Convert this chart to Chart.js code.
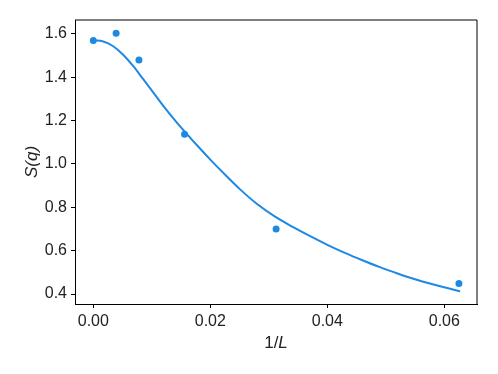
<!DOCTYPE html>
<html>
<head>
<meta charset="utf-8">
<script src="https://cdn.jsdelivr.net/npm/chart.js@4/dist/chart.umd.min.js"></script>
<style>
  html, body { margin: 0; padding: 0; background: #fff; }
  #wrap { width: 498px; height: 374px; }
</style>
</head>
<body>
<div id="wrap"><canvas id="grafico" width="498" height="374"></canvas></div>
<script>
// Datos medidos: S(q) frente a 1/L
const invL   = [0, 0.0039, 0.0078, 0.0156, 0.03125, 0.0625];
const sq     = [1.570, 1.603, 1.479, 1.137, 0.700, 0.448];

// Curva de ajuste
const ajusteX = [0, 0.0017, 0.0034, 0.0051, 0.0068, 0.0085, 0.0103, 0.0120, 0.0140, 0.0157, 0.0180, 0.0200,
                 0.0225, 0.0250, 0.0280, 0.0310, 0.0340, 0.0370, 0.0400, 0.0430, 0.0460, 0.0490, 0.0520,
                 0.0550, 0.0580, 0.0610, 0.0627];
const ajusteY = [1.570, 1.565, 1.543, 1.504, 1.452, 1.392, 1.328, 1.267, 1.200, 1.147, 1.078, 1.020,
                 0.951, 0.885, 0.815, 0.758, 0.711, 0.668, 0.627, 0.590, 0.556, 0.524, 0.495,
                 0.468, 0.445, 0.424, 0.413];

// Marcas de los ejes
const ticksX = [0, 0.02, 0.04, 0.06];
const ticksY = [0.4, 0.6, 0.8, 1.0, 1.2, 1.4, 1.6];

const azul = '#1E88E5';
const fuente = 'Liberation Sans';

// Marco superior y derecho del área + título del eje x (L en cursiva)
const marco = {
    id: 'marco',
    afterDraw(chart){
        const {ctx, chartArea: a} = chart;
        ctx.save();
        ctx.strokeStyle = '#000';
        ctx.lineWidth = 1;
        ctx.beginPath();
        ctx.moveTo(a.left, a.top);
        ctx.lineTo(a.right, a.top);
        ctx.lineTo(a.right, a.bottom);
        ctx.stroke();

        const parte1 = '1/';
        const parte2 = 'L';
        ctx.fillStyle = '#222';
        ctx.textBaseline = 'middle';
        ctx.font = '17px "' + fuente + '"';
        const w1 = ctx.measureText(parte1).width;
        ctx.font = 'italic 17px "' + fuente + '"';
        const w2 = ctx.measureText(parte2).width;
        const x0 = (a.left + a.right) / 2 - (w1 + w2) / 2;
        const y0 = 343;
        ctx.font = '17px "' + fuente + '"';
        ctx.textAlign = 'left';
        ctx.fillText(parte1, x0, y0);
        ctx.font = 'italic 17px "' + fuente + '"';
        ctx.fillText(parte2, x0 + w1, y0);
        ctx.restore();
    }
};

new Chart(document.getElementById('grafico'), {
    type: 'scatter',
    data: {
        datasets: [
            {
                label: 'ajuste',
                data: ajusteX.map((x, i) => ({x: x, y: ajusteY[i]})),
                showLine: true,
                borderColor: azul,
                borderWidth: 2,
                pointRadius: 0,
                cubicInterpolationMode: 'monotone',
                fill: false
            },
            {
                label: 'datos',
                data: invL.map((x, i) => ({x: x, y: sq[i]})),
                showLine: false,
                backgroundColor: azul,
                borderColor: azul,
                pointRadius: 3.5,
                borderWidth: 0
            }
        ]
    },
    options: {
        responsive: false,
        animation: false,
        layout: { padding: { left: 0, top: 20, right: 21, bottom: 0 } },
        plugins: {
            legend: { display: false },
            tooltip: { enabled: false }
        },
        scales: {
            x: {
                type: 'linear',
                min: -0.00313,
                max: 0.06559,
                afterBuildTicks: s => { s.ticks = ticksX.map(v => ({value: v})); },
                afterFit: s => { s.height = 70; },
                grid: { drawOnChartArea: false, drawTicks: true, tickLength: 4, color: '#000' },
                border: { display: true, color: '#000', width: 1 },
                ticks: {
                    color: '#222',
                    padding: 4,
                    maxRotation: 0,
                    font: { family: fuente, size: 16 },
                    callback: v => v.toFixed(2)
                },
                title: { display: false }
            },
            y: {
                type: 'linear',
                min: 0.354,
                max: 1.664,
                afterBuildTicks: s => { s.ticks = ticksY.map(v => ({value: v})); },
                afterFit: s => { s.width = 75; },
                grid: { drawOnChartArea: false, drawTicks: true, tickLength: 4, color: '#000' },
                border: { display: true, color: '#000', width: 1 },
                ticks: {
                    color: '#222',
                    padding: 4,
                    font: { family: fuente, size: 16 },
                    callback: v => v.toFixed(1)
                },
                title: {
                    display: true,
                    text: 'S(q)',
                    color: '#222',
                    font: { family: fuente, size: 17, style: 'italic' },
                    padding: { top: 22, bottom: 0 }
                }
            }
        }
    },
    plugins: [marco]
});
</script>
</body>
</html>
